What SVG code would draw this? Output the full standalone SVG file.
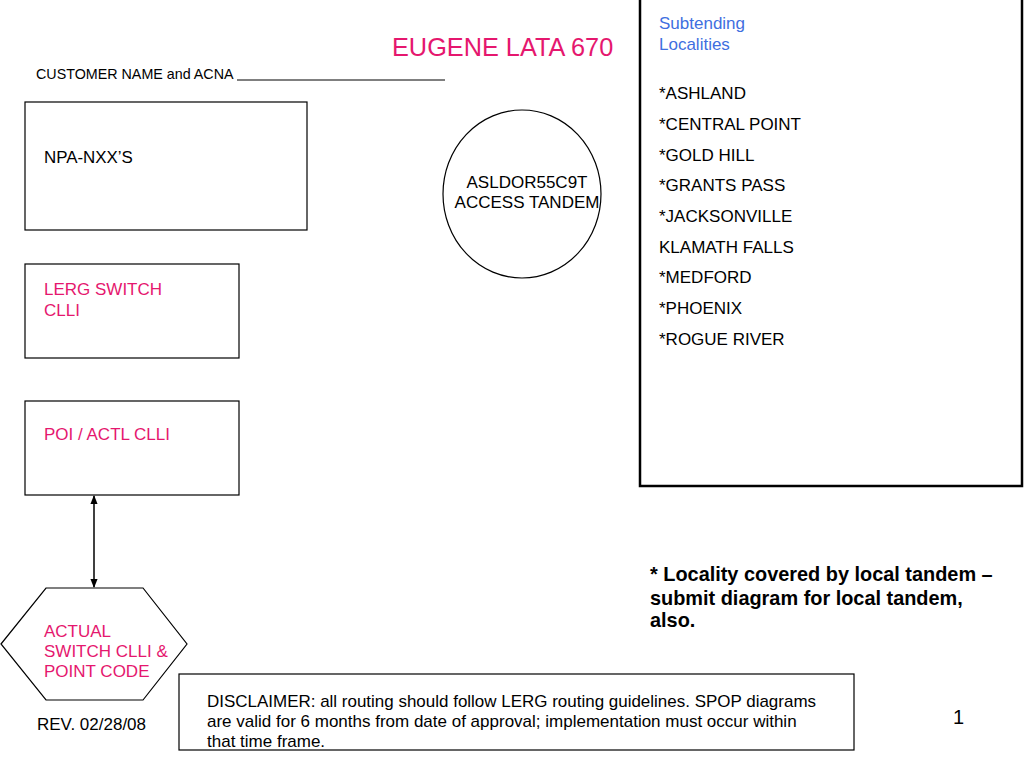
<svg xmlns="http://www.w3.org/2000/svg" width="1024" height="768" viewBox="0 0 1024 768">
<style>
text{font-family:"Liberation Sans",Arial,sans-serif;fill:#000}
.m{fill:#E5176E}
.b{fill:#3F6FE0}
.box{fill:#fff;stroke:#000;stroke-width:1.2}
.conn{stroke:#000;stroke-width:1.5;fill:none}
</style>
<defs>
<marker id="ah" viewBox="0 0 10 10" refX="9" refY="5" markerWidth="9" markerHeight="9" orient="auto-start-reverse" markerUnits="userSpaceOnUse">
<path d="M0,1 L10,5 L0,9 z" fill="#000"/>
</marker>
</defs>
<rect width="1024" height="768" fill="#fff"/>
<g id="title">
<text x="392" y="56" font-size="25.3" class="m">EUGENE LATA 670</text>
<text x="36" y="79" font-size="14.3">CUSTOMER NAME and ACNA</text>
<line x1="237" y1="80" x2="445" y2="80" stroke="#000" stroke-width="1"/>
</g>
<g id="npa">
<rect class="box" x="25" y="102" width="282" height="128"/>
<text x="44" y="163" font-size="16.9">NPA-NXX’S</text>
</g>
<g id="tandem">
<ellipse class="box" cx="522" cy="194" rx="79" ry="84"/>
<text x="527" y="188" font-size="17" text-anchor="middle">ASLDOR55C9T</text>
<text x="527" y="208" font-size="17" text-anchor="middle">ACCESS TANDEM</text>
</g>
<g id="lerg">
<rect class="box" x="25" y="264" width="214" height="94"/>
<text x="44" y="295" font-size="17" class="m">LERG SWITCH</text>
<text x="44" y="315.5" font-size="17" class="m">CLLI</text>
</g>
<g id="poi">
<rect class="box" x="25" y="401" width="214" height="94"/>
<text x="44" y="440" font-size="17" class="m">POI / ACTL CLLI</text>
</g>
<g id="actual">
<polygon class="box" points="1,644 46,588 143,588 187,644 143,700 46,700"/>
<text x="44" y="636.5" font-size="17" class="m">ACTUAL</text>
<text x="44" y="656.5" font-size="17" class="m">SWITCH CLLI &amp;</text>
<text x="44" y="676.5" font-size="17" class="m">POINT CODE</text>
</g>
<g id="connectors">
<line class="conn" x1="94" y1="496" x2="94" y2="587" marker-start="url(#ah)" marker-end="url(#ah)"/>
</g>
<g id="localities">
<rect x="640" y="-2" width="382" height="488" fill="#fff" stroke="#000" stroke-width="2.5"/>
<text x="659" y="29" font-size="17" class="b">Subtending</text>
<text x="659" y="49.5" font-size="17" class="b">Localities</text>
<g font-size="17">
<text x="659" y="99">*ASHLAND</text>
<text x="659" y="130">*CENTRAL POINT</text>
<text x="659" y="160.5">*GOLD HILL</text>
<text x="659" y="191">*GRANTS PASS</text>
<text x="659" y="222">*JACKSONVILLE</text>
<text x="659" y="252.5">KLAMATH FALLS</text>
<text x="659" y="283">*MEDFORD</text>
<text x="659" y="314">*PHOENIX</text>
<text x="659" y="344.5">*ROGUE RIVER</text>
</g>
</g>
<g id="note" font-size="19.9" font-weight="bold">
<text x="650" y="581">* Locality covered by local tandem –</text>
<text x="650" y="605">submit diagram for local tandem,</text>
<text x="650" y="627">also.</text>
</g>
<g id="disclaimer">
<rect class="box" x="179" y="674" width="675" height="76"/>
<text x="207" y="707" font-size="17" textLength="609" lengthAdjust="spacingAndGlyphs">DISCLAIMER: all routing should follow LERG routing guidelines. SPOP diagrams</text>
<text x="207" y="727" font-size="17">are valid for 6 months from date of approval; implementation must occur within</text>
<text x="207" y="746.5" font-size="17">that time frame.</text>
</g>
<text x="37" y="729.5" font-size="17">REV. 02/28/08</text>
<text x="953" y="724" font-size="20">1</text>
</svg>
